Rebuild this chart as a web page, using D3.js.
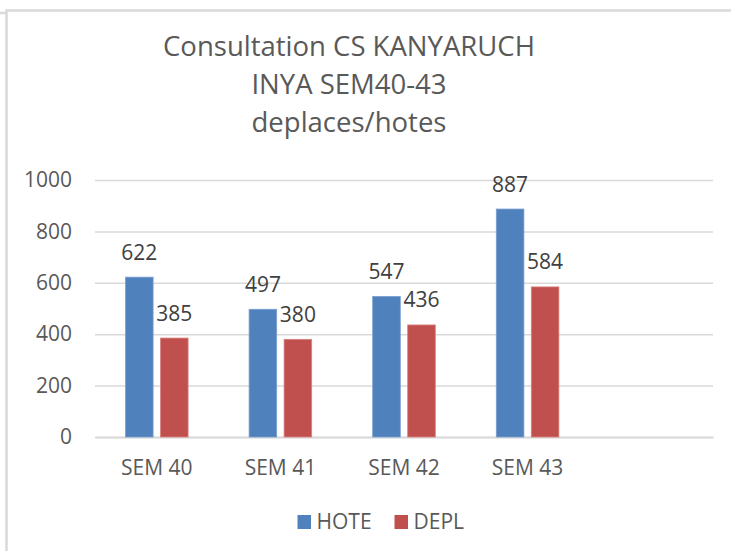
<!DOCTYPE html>
<html>
<head>
<meta charset="utf-8">
<script src="https://cdn.jsdelivr.net/npm/d3@7"></script>
<style>
  body { margin: 0; background: #fff; }
  svg { display: block; font-family: "Open Sans", sans-serif; }
</style>
</head>
<body>
<div id="chart"></div>
<script>
// data
var categories = ["SEM 40", "SEM 41", "SEM 42", "SEM 43", ""];
var series = ["HOTE", "DEPL"];
var hote = [622, 497, 547, 887];
var depl = [385, 380, 436, 584];
var yTicks = [0, 200, 400, 600, 800, 1000];
var titleLines = ["Consultation CS KANYARUCH", "INYA SEM40-43", "deplaces/hotes"];

var width = 731, height = 551;
var colors = { HOTE: "#4F81BD", DEPL: "#C0504D" };
var edge = { HOTE: "#7b9fd0", DEPL: "#d98380" };
var fs = 21;

var svg = d3.select("#chart").append("svg")
    .attr("width", width)
    .attr("height", height);

// outer frame (chart area border)
svg.append("path")
    .attr("d", "M0,13H6.5M6.5,551V10.5H731")
    .attr("fill", "none")
    .attr("stroke", "#d9d9d9")
    .attr("stroke-width", 2.5);

// title
svg.append("g").selectAll("text")
    .data(titleLines)
    .enter().append("text")
    .attr("x", 349)
    .attr("y", function(d, i) { return 56 + i * 37.8; })
    .attr("text-anchor", "middle")
    .attr("font-size", 27.5)
    .attr("fill", "#595959")
    .text(function(d) { return d; });

var x = d3.scaleBand()
    .domain(categories)
    .range([95, 713]);

var x1 = d3.scaleBand()
    .domain(series)
    .range([30.5, x.bandwidth() - 30.5])
    .paddingInner(0.211);

var y = d3.scaleLinear()
    .domain([0, 1000])
    .range([437, 180]);

// y axis with gridlines
var yAxis = svg.append("g")
    .attr("transform", "translate(95,0)")
    .call(d3.axisLeft(y).tickValues(yTicks).tickFormat(d3.format("d")).tickSize(-618).tickPadding(23));
yAxis.select(".domain").remove();
yAxis.selectAll(".tick line")
    .attr("stroke", "#d9d9d9")
    .attr("stroke-width", 1.5);
yAxis.selectAll(".tick text")
    .attr("font-family", "Open Sans, sans-serif")
    .attr("font-size", fs)
    .attr("fill", "#595959");

// x axis
var xAxis = svg.append("g")
    .attr("transform", "translate(0,437)")
    .call(d3.axisBottom(x).tickSize(0).tickPadding(23));
xAxis.select(".domain")
    .attr("stroke", "#d9d9d9")
    .attr("stroke-width", 2);
xAxis.selectAll(".tick text")
    .attr("font-family", "Open Sans, sans-serif")
    .attr("font-size", fs)
    .attr("fill", "#595959");

var rows = categories.slice(0, hote.length).map(function(c, i) {
    return { cat: c, values: [ { key: "HOTE", value: hote[i] }, { key: "DEPL", value: depl[i] } ] };
});

var group = svg.append("g").selectAll("g")
    .data(rows)
    .enter().append("g")
    .attr("transform", function(d) { return "translate(" + x(d.cat) + ",0)"; });

group.selectAll("rect")
    .data(function(d) { return d.values; })
    .enter().append("rect")
    .attr("x", function(d) { return x1(d.key); })
    .attr("y", function(d) { return y(d.value); })
    .attr("width", x1.bandwidth())
    .attr("height", function(d) { return y(0) - y(d.value); })
    .attr("fill", function(d) { return colors[d.key]; })
    .attr("stroke", function(d) { return edge[d.key]; })
    .attr("stroke-width", 0.8);

group.selectAll("text")
    .data(function(d) { return d.values; })
    .enter().append("text")
    .attr("x", function(d) { return x1(d.key) + x1.bandwidth() / 2; })
    .attr("y", function(d) { return y(d.value) - 17.5; })
    .attr("text-anchor", "middle")
    .attr("font-size", fs)
    .attr("fill", "#404040")
    .text(function(d) { return d.value; });

// legend
var legend = svg.append("g").selectAll("g")
    .data(series)
    .enter().append("g")
    .attr("transform", function(d, i) { return "translate(" + (297.5 + i * 97) + ",515)"; });

legend.append("rect")
    .attr("width", 13.5)
    .attr("height", 14)
    .attr("fill", function(d) { return colors[d]; });

legend.append("text")
    .attr("x", 19)
    .attr("y", 14)
    .attr("font-size", fs)
    .attr("fill", "#595959")
    .text(function(d) { return d; });
</script>
</body>
</html>
